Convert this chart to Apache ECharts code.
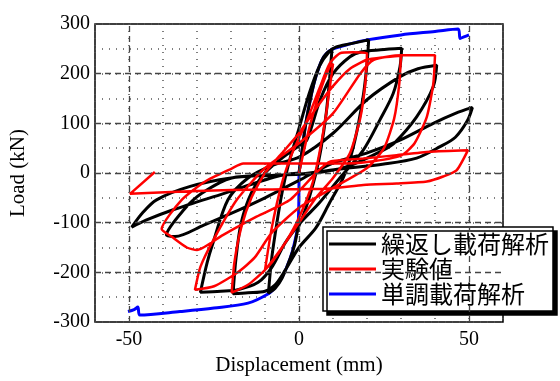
<!DOCTYPE html>
<html>
<head>
<meta charset="utf-8">
<script src="https://cdn.jsdelivr.net/npm/echarts@6/dist/echarts.min.js"></script>
<style>
  html, body { margin: 0; padding: 0; background: #fff; }
  #chart { width: 560px; height: 381px; }
</style>
</head>
<body>
<div id="chart"></div>
<script>
// displacement (mm), load (kN)
const cyclicPath = [
  [0, 0], [1, 50], [2, 100], [3.7, 160], [5, 195], [6.7, 227], [8, 240], [9.7, 249],
  [9, 190], [8, 120], [6.5, 50], [5, 0], [3, -50], [1, -90], [-0.2, -110], [-1.3, -145], [-2.6, -172], [-5, -212], [-7, -232], [-9, -242],
  [-8, -170], [-6.5, -100], [-5, -40], [-3, 20], [0, 90], [3, 160], [6, 215], [9, 245], [11, 254], [15, 260], [20.5, 268],
  [20, 220], [19, 160], [17.5, 100], [15.5, 40], [13, -10], [9, -60], [5, -110], [0, -150], [-4, -195], [-7, -225], [-10, -238], [-15, -241], [-19.4, -243],
  [-18.5, -170], [-17, -100], [-14, -40], [-10, 0], [-5, 30], [0, 55], [2.3, 66], [6.2, 147], [10, 200], [15, 234], [18.4, 244], [24, 248], [30.2, 251],
  [29.7, 214], [27.7, 160], [23.8, 107], [18.9, 46], [12, -10], [6, -60], [0.3, -101], [-4, -140], [-8, -190], [-12, -220], [-18, -235], [-23, -238], [-29, -240],
  [-27, -180], [-25.3, -141], [-20.9, -54], [-15, -10], [-8, 15], [0.3, 33], [10, 80], [19.9, 147], [29.7, 194], [35, 210], [40.5, 217],
  [39.5, 174], [34.6, 113], [28, 60], [24.8, 46], [15, 15], [5, 0], [-8, -5], [-19.8, -10], [-28.6, -41], [-34, -75], [-39, -125],
  [-36.5, -128], [-28, -105], [-19.8, -81], [-10, -50], [0, -15], [10, 20], [19.9, 40], [29.7, 66], [39.5, 100], [46, 120], [51, 132],
  [49.5, 105], [46, 72], [41.5, 53], [34.6, 30], [25, 18], [12, 8], [0, -2], [-10, -5], [-20, -10], [-32, -27], [-41.9, -54], [-46, -80], [-49.2, -109],
  [-45, -95], [-37, -74], [-22, -41], [-6.6, -7], [0, 0]
];

const testPath = [
  [0, 0], [3, 90], [6, 160], [9, 214], [10, 220],
  [8, 120], [6, 40], [4, -20], [0, -90], [-4, -140], [-8, -180], [-10, -195],
  [-8, -110], [-5, -20], [-2, 40], [2, 100], [6, 170], [9, 220], [12, 241], [16, 243], [20, 241],
  [19.5, 180], [18, 110], [15, 40], [10, -10], [5, -50], [0, -100], [-5, -150], [-10, -195], [-15, -225], [-19.8, -241],
  [-19, -180], [-17, -110], [-14, -50], [-10, 0], [-5, 40], [0, 80], [5, 130], [10, 175], [15, 210], [20, 228], [25, 233], [30, 236],
  [29.5, 180], [28, 110], [25, 50], [20, 10], [10, -30], [0, -70], [-8, -120], [-13, -170], [-18, -200], [-25, -228], [-30.6, -235],
  [-29, -189], [-25.2, -135], [-18.3, -54], [-10, 10], [0, 60], [10, 120], [18, 200], [22, 228], [30, 237], [40, 237],
  [39.5, 180], [37.6, 113], [34, 60], [30, 35], [20, 22], [12, 19], [0, 19], [-16.4, 19], [-19.8, 9], [-27.6, -17], [-34.5, -54], [-40.4, -113],
  [-37.5, -128], [-33, -150], [-30, -155], [-22.4, -125], [-12.5, -88], [-2.6, -54], [5, 0], [9.1, 23], [18.9, 29], [28.7, 36], [38.5, 43], [49.7, 46],
  [46.4, 6], [42.4, -7], [37.6, -17], [28.7, -21], [18.9, -24], [9.1, -31], [-10, -33], [-30, -36], [-49.7, -42],
  [-42.4, 2]
];

const monoPos = [
  [0, 0], [1, 50], [2, 100], [3.7, 160], [5, 195], [6.7, 227], [8, 240], [9.7, 249], [15, 260], [20, 268], [30, 278], [40, 285], [46.8, 290], [47.4, 271], [48.5, 274], [50, 278]
];
const monoNeg = [
  [0, 0], [-0.2, -98], [-1.3, -140], [-2.6, -172], [-5, -210], [-7, -230], [-9, -243], [-15, -262], [-25, -272], [-35, -279], [-46.8, -286], [-47.4, -270], [-48.5, -275], [-50.3, -279]
];

const names = ['繰返し載荷解析', '実験値', '単調載荷解析'];
const xMajor = [-50, 0, 50];
const yMajor = [-200, -100, 0, 100, 200];

const serif = '"Liberation Serif", "DejaVu Serif", serif';
const myChart = echarts.init(document.getElementById('chart'));
myChart.setOption({
    animation: false,
    grid: {
        left: 95, right: 57, top: 24, bottom: 59,
        show: true,
        borderColor: '#000',
        borderWidth: 1.5
    },
    legend: {
        data: names,
        orient: 'vertical',
        left: 323,
        top: 227,
        padding: [5, 4, 5, 6],
        itemGap: 1,
        icon: 'rect',
        itemWidth: 47,
        itemHeight: 3,
        backgroundColor: '#fff',
        borderColor: '#000',
        borderWidth: 1.5,
        borderRadius: 0,
        shadowColor: '#000',
        shadowOffsetX: 4,
        shadowOffsetY: 4,
        shadowBlur: 0,
        textStyle: {
            color: '#000',
            fontSize: 24,
            lineHeight: 24,
            fontFamily: '"Noto Sans CJK JP", sans-serif'
        }
    },
    xAxis: {
        type: 'value',
        min: -60,
        max: 60,
        interval: 10,
        name: 'Displacement (mm)',
        nameLocation: 'middle',
        nameGap: 32,
        nameTextStyle: {color: '#000', fontSize: 21, fontFamily: serif},
        axisLine: {show: false},
        axisTick: {show: false},
        axisLabel: {
            color: '#000', fontSize: 20, fontFamily: serif, margin: 8,
            formatter: v => (xMajor.indexOf(v) >= 0 ? String(v) : '')
        },
        splitLine: {lineStyle: {color: '#555', type: [1, 6], width: 1.5}}
    },
    yAxis: {
        type: 'value',
        min: -300,
        max: 300,
        interval: 50,
        name: 'Load (kN)',
        nameLocation: 'middle',
        nameGap: 66,
        nameTextStyle: {color: '#000', fontSize: 21, fontFamily: serif},
        axisLine: {show: false},
        axisTick: {show: false},
        axisLabel: {
            color: '#000', fontSize: 20, fontFamily: serif, margin: 5,
            formatter: v => (v % 100 === 0 ? String(v) : '')
        },
        splitLine: {lineStyle: {color: '#555', type: [1, 6], width: 1.5}}
    },
    series: [
        {
            name: 'grid',
            type: 'line',
            data: [],
            silent: true,
            markLine: {
                symbol: 'none',
                silent: true,
                label: {show: false},
                lineStyle: {color: '#444', type: [6, 4], width: 1.3},
                data: xMajor.map(v => ({xAxis: v})).concat(yMajor.map(v => ({yAxis: v})))
            }
        },
        {
            name: names[2],
            type: 'line',
            data: monoPos,
            symbol: 'none',
            smooth: 0.3,
            color: '#0000ff',
            lineStyle: {width: 3}
        },
        {
            name: names[2],
            type: 'line',
            data: monoNeg,
            symbol: 'none',
            smooth: 0.3,
            color: '#0000ff',
            lineStyle: {width: 3}
        },
        {
            name: names[0],
            type: 'line',
            data: cyclicPath,
            symbol: 'none',
            smooth: 0.3,
            color: '#000',
            lineStyle: {width: 3}
        },
        {
            name: names[1],
            type: 'line',
            data: testPath,
            symbol: 'none',
            smooth: 0.2,
            color: '#ff0000',
            lineStyle: {width: 2.5}
        }
    ]
});
</script>
</body>
</html>
